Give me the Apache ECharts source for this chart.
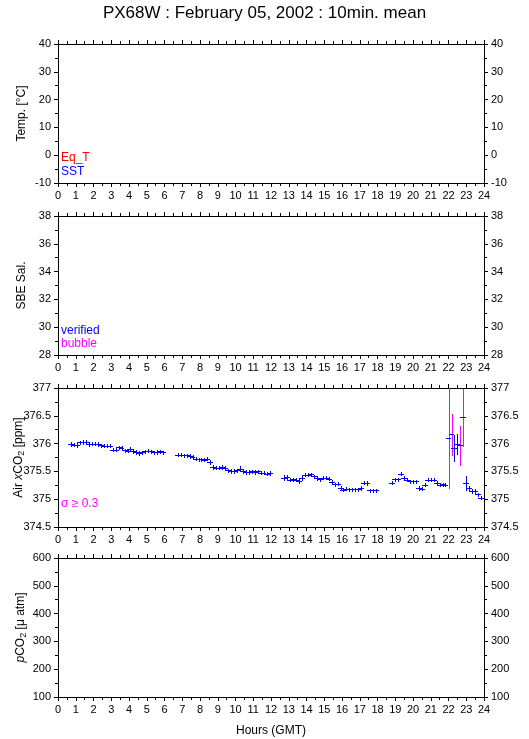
<!DOCTYPE html>
<html>
<head>
<meta charset="utf-8">
<script src="https://cdn.jsdelivr.net/npm/echarts@6/dist/echarts.min.js"></script>
<style>
html,body{margin:0;padding:0;background:#fff;}
#chart{width:529px;height:739px;}
</style>
</head>
<body>
<div id="chart"></div>
<script>
// ---- data ----
const titleText = 'PX68W : February 05, 2002 : 10min. mean';

// Air xCO2 10-min means (hours GMT), values (ppm) and standard deviation
const hours = [
  0.75,0.92,1.08,1.25,1.42,1.58,1.75,1.92,2.08,2.25,2.42,2.58,2.75,2.92,3.08,3.25,
  3.42,3.58,3.75,3.92,4.08,4.25,4.42,4.58,4.75,4.92,5.08,5.25,5.42,5.58,5.75,5.92,
  6.75,6.92,7.08,7.25,7.42,7.58,7.75,7.92,8.08,8.25,8.42,8.58,8.75,8.92,9.08,9.25,
  9.42,9.58,9.75,9.92,10.08,10.25,10.42,10.58,10.75,10.92,11.08,11.25,11.42,11.58,11.75,11.92,
  12.75,12.92,13.08,13.25,13.42,13.58,13.75,13.92,14.08,14.25,14.42,14.58,14.75,14.92,15.08,15.25,
  15.42,15.58,15.75,15.92,16.08,16.25,16.42,16.58,16.75,16.92,17.08,17.25,17.42,17.58,17.75,17.92,
  18.83,19.00,19.17,19.33,19.50,19.67,19.83,20.00,20.17,20.33,20.50,20.67,20.83,21.00,21.17,21.33,
  21.50,21.67,21.83,
  22.00,22.17,22.33,22.50,22.67,22.83,23.00,
  23.17,23.33,23.50,23.67,23.83,24.00
];
const xco2 = [
  375.99,375.98,375.97,376.02,376.03,376.03,375.99,376.00,376.00,375.99,375.97,375.96,375.96,375.96,375.89,375.89,
  375.93,375.92,375.88,375.87,375.91,375.87,375.85,375.83,375.84,375.86,375.87,375.86,375.84,375.85,375.86,375.84,
  375.80,375.80,375.79,375.79,375.78,375.76,375.73,375.72,375.72,375.71,375.73,375.67,375.58,375.57,375.57,375.58,
  375.57,375.52,375.51,375.51,375.52,375.55,375.51,375.49,375.49,375.50,375.49,375.50,375.48,375.48,375.46,375.47,
  375.39,375.40,375.35,375.36,375.35,375.33,375.38,375.44,375.44,375.45,375.41,375.38,375.36,375.39,375.39,375.37,
  375.31,375.27,375.28,375.20,375.17,375.19,375.18,375.18,375.18,375.18,375.20,375.30,375.29,375.16,375.16,375.16,
  375.30,375.36,375.36,375.46,375.39,375.35,375.32,375.32,375.32,375.20,375.19,375.26,375.35,375.35,375.35,375.30,
  375.26,375.27,375.26,
  376.10,376.17,375.92,376.00,375.97,376.47,375.29,
  375.20,375.15,375.15,375.09,375.03,375.03
];
const sigma = [
  0.03,0.03,0.04,0.03,0.03,0.03,0.03,0.03,0.03,0.03,0.03,0.03,0.03,0.03,0.03,0.03,
  0.03,0.03,0.03,0.03,0.03,0.04,0.03,0.03,0.03,0.03,0.03,0.03,0.03,0.03,0.03,0.03,
  0.03,0.03,0.03,0.03,0.03,0.03,0.03,0.03,0.03,0.03,0.03,0.03,0.03,0.03,0.03,0.03,
  0.03,0.03,0.03,0.03,0.03,0.04,0.03,0.03,0.03,0.03,0.03,0.03,0.03,0.03,0.03,0.03,
  0.04,0.03,0.03,0.03,0.03,0.03,0.03,0.03,0.03,0.03,0.03,0.03,0.03,0.03,0.03,0.03,
  0.03,0.03,0.03,0.03,0.03,0.03,0.03,0.03,0.03,0.03,0.03,0.03,0.03,0.03,0.03,0.03,
  0.03,0.03,0.03,0.03,0.03,0.03,0.03,0.03,0.03,0.03,0.03,0.03,0.03,0.03,0.03,0.03,
  0.03,0.03,0.03,
  0.90,0.37,0.23,0.18,0.35,0.52,0.13,
  0.03,0.03,0.03,0.03,0.03,0.03
];

// panel axis ranges [min, max, interval]
const tempRange = [-10, 40, 10];
const salRange = [28, 38, 2];
const xco2Range = [374.5, 377, 0.5];
const pco2Range = [100, 600, 100];
// ---- end data ----

const FONT = '"Liberation Sans", Arial, Helvetica, sans-serif';
const chart = echarts.init(document.getElementById('chart'), null, {renderer: 'canvas'});

const gridTops = [44, 216, 388, 558];
const gridH = 139;
const grids = gridTops.map(t => ({left: 58, right: 45, top: t, height: gridH, show: false}));

const lineStyle = {color: '#000', width: 1};
const xAxes = [];
const yAxes = [];
gridTops.forEach((t, i) => {
  xAxes.push({
    type: 'value', gridIndex: i, position: 'bottom', min: 0, max: 24, interval: 1,
    axisLine: {show: true, onZero: false, lineStyle},
    axisTick: {show: true, inside: false, length: 4, lineStyle},
    minorTick: {show: true, splitNumber: 2, length: 3, lineStyle},
    axisLabel: {show: true, color: '#000', fontFamily: FONT, fontSize: 11, margin: 7},
    splitLine: {show: false},
    name: i === 3 ? 'Hours (GMT)' : '',
    nameLocation: 'middle', nameGap: 28, nameMoveOverlap: false,
    nameTextStyle: {color: '#000', fontFamily: FONT, fontSize: 12}
  });
  xAxes.push({
    type: 'value', gridIndex: i, position: 'top', min: 0, max: 24, interval: 1,
    axisLine: {show: true, onZero: false, lineStyle},
    axisTick: {show: true, inside: false, length: 4, lineStyle},
    minorTick: {show: true, splitNumber: 2, length: 3, lineStyle},
    axisLabel: {show: false},
    splitLine: {show: false}
  });
});

const ranges = [tempRange, salRange, xco2Range, pco2Range];
const yNames = [
  'Temp. [°C]',
  'SBE Sal.',
  'Air {it|x}CO{sub|2} [ppm]',
  '{it|p}CO{sub|2} [μ atm]'
];
const yNameGaps = [30, 30, 32, 30];
ranges.forEach((r, i) => {
  const common = {
    type: 'value', gridIndex: i, min: r[0], max: r[1], interval: r[2],
    axisLine: {show: true, onZero: false, lineStyle},
    axisTick: {show: true, inside: false, length: 4, lineStyle},
    minorTick: {show: true, splitNumber: 2, length: 3, lineStyle},
    splitLine: {show: false},
    axisLabel: {show: true, color: '#000', fontFamily: FONT, fontSize: 11, margin: 7}
  };
  yAxes.push(Object.assign({}, common, {
    position: 'left',
    name: yNames[i], nameLocation: 'middle', nameGap: yNameGaps[i], nameMoveOverlap: false,
    nameTextStyle: {
      color: '#000', fontFamily: FONT, fontSize: 12,
      rich: {
        sub: {fontFamily: FONT, fontSize: 9, verticalAlign: 'bottom', padding: [6, 0, 0, 0], color: '#000'},
        it: {fontFamily: FONT, fontSize: 12, fontStyle: 'italic', color: '#000'}
      }
    }
  }));
  yAxes.push(Object.assign({}, common, {position: 'right'}));
});

const xData = hours.map((h, k) => [h, xco2[k], sigma[k]]);

function crisp(v) { return Math.round(v) + 0.5; }

function renderErr(params, api) {
  const t = api.value(0), v = api.value(1), s = api.value(2);
  const lo = Math.max(v - s, xco2Range[0]);
  const hi = Math.min(v + s, xco2Range[1]);
  const pl = api.coord([Math.max(t - 0.11, 0), v]);
  const pr = api.coord([Math.min(t + 0.11, 24), v]);
  const pb = api.coord([t, lo]);
  const pt = api.coord([t, hi]);
  const vc = s >= 0.3 ? '#ff00ff' : '#0000ff';
  const cx = crisp(pb[0]), cy = crisp(pl[1]);
  return {
    type: 'group',
    children: [
      {type: 'line', shape: {x1: cx, y1: Math.round(pb[1]) + 1, x2: cx, y2: Math.round(pt[1])}, style: {stroke: vc, lineWidth: 1}},
      {type: 'line', shape: {x1: Math.round(pl[0]) - 1, y1: cy, x2: Math.round(pr[0]) + 1, y2: cy}, style: {stroke: '#0000ff', lineWidth: 1}}
    ]
  };
}

const option = {
  backgroundColor: '#fff',
  animation: false,
  title: {
    text: titleText, left: 'center', top: 0,
    textStyle: {color: '#000', fontFamily: FONT, fontSize: 17, fontWeight: 'normal'}
  },
  grid: grids,
  xAxis: xAxes,
  yAxis: yAxes,
  series: [{
    type: 'custom',
    xAxisIndex: 4, yAxisIndex: 4,
    renderItem: renderErr,
    encode: {x: 0, y: 1},
    data: xData,
    clip: true
  }],
  graphic: [
    {type: 'text', left: 61, top: 152, style: {text: 'Eq_T', fill: '#ff0000', font: '12px ' + FONT}},
    {type: 'text', left: 61, top: 166, style: {text: 'SST', fill: '#0000ff', font: '12px ' + FONT}},
    {type: 'text', left: 61, top: 325, style: {text: 'verified', fill: '#0000ff', font: '12px ' + FONT}},
    {type: 'text', left: 61, top: 338, style: {text: 'bubble', fill: '#ff00ff', font: '12px ' + FONT}},
    {type: 'text', left: 61, top: 498, style: {text: 'σ ≥ 0.3', fill: '#ff00ff', font: '12px ' + FONT}}
  ]
};
chart.setOption(option);
</script>
</body>
</html>
